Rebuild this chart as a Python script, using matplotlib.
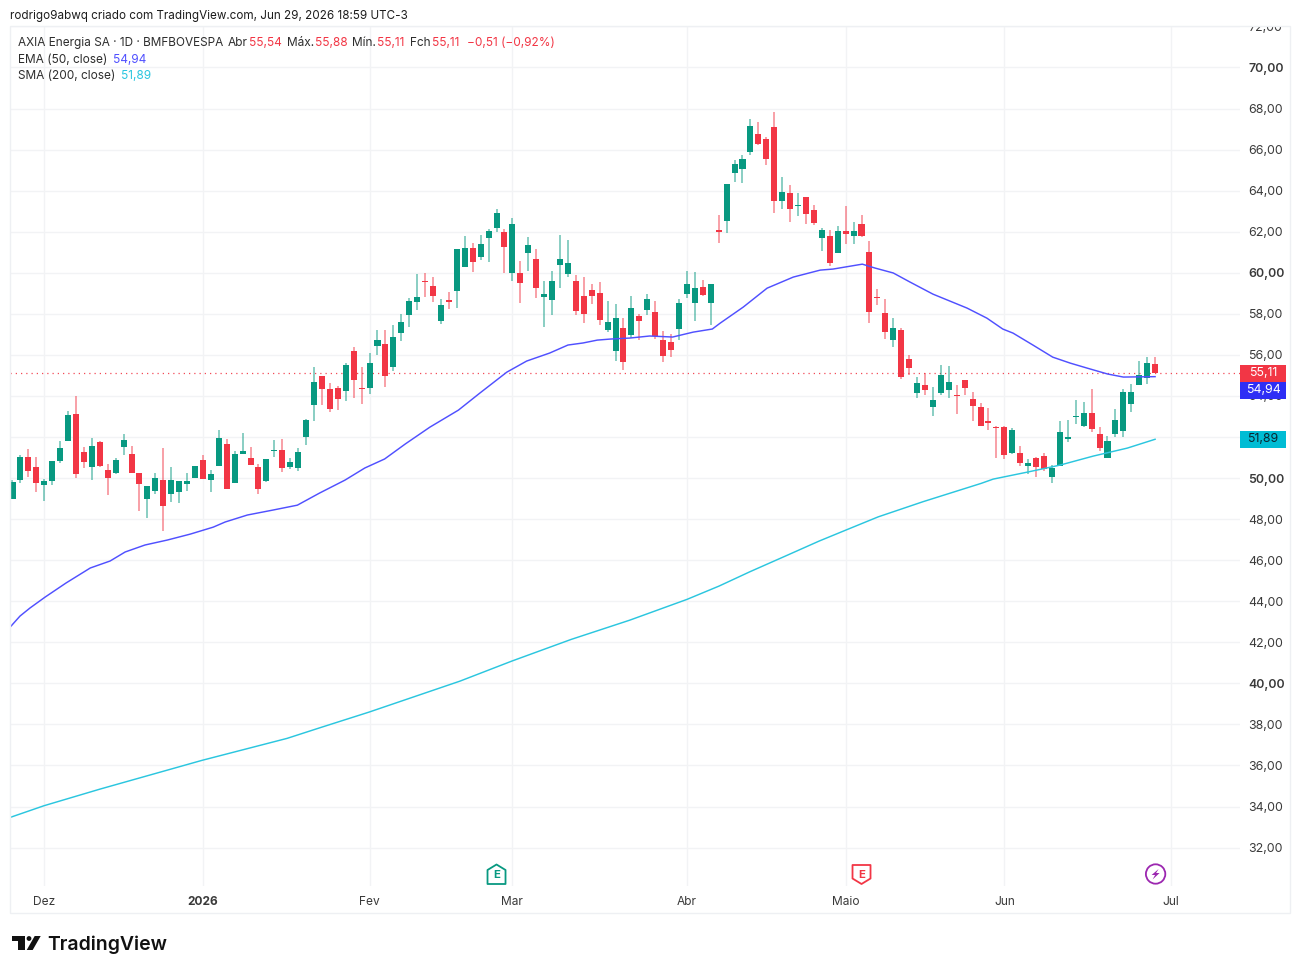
import matplotlib
matplotlib.use("Agg")
import matplotlib.pyplot as plt
from matplotlib.patches import Rectangle, Polygon, Circle
from matplotlib.transforms import Affine2D, Bbox, blended_transform_factory

# Daily OHLC, one row position per session
opens = [48.99, 49.90, 51.02, 50.55, 49.64, 49.87, 50.81, 51.79, 53.12, 51.27,
         50.54, 51.76, 50.41, 50.26, 51.50, 51.15, 50.23, 48.99, 49.35, 49.90,
         49.24, 49.33, 49.71, 50.02, 50.88, 49.89, 50.60, 51.67, 49.76, 51.19,
         50.99, 50.55, 49.87, 51.30, 51.37, 50.54, 50.50, 51.98, 53.57, 54.95,
         54.32, 54.37, 54.24, 56.21, 54.38, 54.37, 56.44, 56.55, 55.43, 57.09,
         57.95, 58.59, 59.61, 59.34, 57.67, 58.65, 59.12, 60.30, 61.19, 60.75,
         61.71, 62.19, 62.01, 59.99, 59.99, 60.98, 60.69, 58.81, 58.65, 60.39,
         59.95, 59.60, 58.86, 59.16, 59.01, 57.22, 56.18, 57.30, 56.98, 57.87,
         58.21, 58.11, 56.72, 56.63, 57.28, 58.98, 58.55, 59.32, 58.52, 62.10,
         62.52, 64.86, 65.06, 65.87, 66.78, 66.50, 67.12, 63.50, 63.87, 63.27,
         63.67, 63.04, 61.69, 61.80, 60.98, 62.03, 61.80, 62.39, 60.99, 58.80,
         58.05, 56.73, 57.21, 55.78, 54.13, 54.52, 53.48, 54.13, 54.31, 54.05,
         54.77, 53.87, 53.45, 52.77, 52.47, 52.47, 51.22, 51.22, 50.60, 50.98,
         51.07, 50.07, 50.59, 51.92, 52.96, 52.52, 53.16, 52.13, 50.99, 52.13,
         52.31, 53.61, 54.54, 54.85, 55.54]
highs = [49.92, 51.14, 51.41, 51.02, 49.97, 50.85, 51.80, 53.25, 54.02, 51.51,
         51.97, 51.80, 50.70, 50.99, 52.15, 51.56, 50.23, 49.63, 50.24, 51.48,
         50.55, 49.87, 50.23, 50.59, 51.14, 50.41, 52.34, 51.92, 51.33, 52.20,
         51.51, 50.68, 50.93, 51.84, 51.90, 50.98, 51.48, 52.86, 55.39, 54.95,
         54.63, 54.47, 55.62, 56.40, 55.39, 56.09, 57.19, 57.22, 57.46, 57.97,
         58.77, 59.92, 60.00, 59.81, 58.70, 59.04, 61.18, 61.81, 61.44, 61.83,
         62.15, 63.13, 62.15, 62.69, 60.59, 61.73, 61.14, 59.58, 60.07, 61.83,
         61.60, 59.87, 59.78, 59.47, 59.56, 58.62, 58.50, 57.80, 58.88, 57.97,
         58.98, 58.62, 57.15, 57.02, 58.72, 60.08, 60.05, 59.67, 59.46, 62.81,
         64.34, 65.48, 65.74, 67.48, 67.35, 66.62, 67.85, 64.68, 64.29, 63.87,
         63.69, 63.28, 62.20, 62.07, 62.26, 63.27, 62.49, 62.81, 61.54, 59.22,
         58.73, 57.79, 57.31, 56.00, 54.91, 55.13, 54.43, 55.52, 55.45, 54.52,
         54.77, 54.17, 53.68, 53.42, 52.52, 52.52, 52.44, 51.58, 50.94, 51.01,
         51.20, 50.63, 52.78, 52.83, 53.81, 53.69, 54.36, 52.51, 52.07, 53.34,
         54.36, 54.56, 55.71, 55.92, 55.88]
lows = [48.99, 49.76, 50.05, 49.30, 48.86, 49.66, 50.72, 51.79, 50.02, 50.50,
        49.90, 50.54, 49.19, 50.18, 51.11, 50.23, 48.41, 48.07, 49.24, 47.43,
        48.85, 48.81, 49.37, 50.02, 49.95, 49.30, 50.60, 49.48, 49.76, 51.19,
        50.63, 49.22, 49.80, 51.04, 50.31, 50.46, 50.34, 51.59, 52.78, 53.54,
        53.20, 53.30, 53.77, 53.88, 53.59, 54.08, 55.98, 54.43, 55.22, 56.70,
        57.38, 58.20, 58.83, 58.60, 57.51, 58.23, 58.26, 60.30, 60.05, 60.64,
        60.52, 62.01, 60.00, 59.58, 58.55, 60.10, 58.78, 57.36, 57.92, 59.25,
        59.78, 57.92, 57.56, 58.49, 57.46, 57.12, 55.69, 55.25, 56.83, 56.72,
        57.92, 56.78, 55.64, 55.89, 56.72, 58.76, 57.64, 58.85, 57.48, 61.43,
        61.92, 64.41, 64.36, 65.76, 66.23, 65.25, 62.91, 63.09, 62.47, 62.76,
        62.36, 62.34, 61.04, 60.33, 60.98, 61.38, 61.40, 61.76, 57.54, 58.42,
        56.78, 56.37, 54.82, 55.01, 53.92, 54.04, 53.04, 54.07, 53.89, 53.11,
        54.07, 52.80, 52.54, 52.33, 50.98, 50.93, 51.19, 50.59, 50.21, 50.05,
        50.34, 49.76, 50.59, 51.74, 52.65, 52.49, 52.23, 51.30, 50.99, 51.99,
        51.99, 53.22, 54.54, 54.57, 55.11]
closes = [49.80, 51.02, 50.33, 49.76, 49.87, 50.81, 51.48, 53.07, 50.21, 50.80,
          51.58, 50.57, 50.02, 50.88, 51.87, 50.24, 49.69, 49.63, 49.98, 48.63,
          49.93, 49.85, 49.87, 50.59, 49.97, 50.21, 51.93, 49.48, 51.17, 51.32,
          50.65, 49.45, 50.93, 51.37, 50.47, 50.78, 51.27, 52.81, 54.66, 54.35,
          53.36, 53.86, 55.49, 54.76, 54.34, 55.59, 56.73, 54.95, 56.86, 57.61,
          58.62, 58.83, 59.55, 58.88, 58.41, 58.60, 61.18, 61.19, 60.51, 61.39,
          62.02, 62.92, 61.26, 62.36, 59.48, 61.34, 59.27, 58.98, 59.58, 60.69,
          60.48, 58.16, 57.97, 58.88, 57.72, 57.61, 57.80, 55.63, 58.26, 57.63,
          58.72, 56.91, 55.97, 56.26, 58.55, 59.46, 59.27, 58.93, 59.46, 61.97,
          64.34, 65.32, 65.56, 67.14, 66.26, 65.54, 63.50, 63.92, 63.09, 63.32,
          62.86, 62.41, 62.07, 60.49, 62.03, 61.89, 62.03, 61.77, 58.11, 58.75,
          57.11, 57.32, 54.91, 55.34, 54.64, 54.28, 53.81, 55.00, 54.67, 54.00,
          54.39, 53.52, 52.54, 52.70, 52.42, 51.12, 52.36, 50.73, 50.75, 50.52,
          50.42, 50.50, 52.26, 52.00, 53.03, 53.16, 52.38, 51.48, 51.81, 52.83,
          54.20, 54.17, 55.03, 55.62, 55.11]

# Moving averages, read at these session positions
ema_pos = [-0.3, 0.95, 2.2, 4.1, 6.75, 9.8, 12.3, 14.2, 16.7, 19.5, 22.4, 25.3, 26.8, 29.6,
           32.8, 35.9, 38.7, 41.9, 44.4, 46.9, 49.5, 52.6, 56.2, 58.9, 62.3, 64.8, 67.7,
           70.0, 71.9, 73.7, 75.3, 77.8, 80.3, 83.2, 85.8, 88.2, 89.2, 92.1, 95.1, 98.4,
           101.8, 103.4, 107.1, 108.7, 111.0, 113.1, 116.0, 120.3, 122.8, 124.8, 126.1,
           128.6, 131.1, 133.3, 135.4, 138.0, 140.0, 144.0]
ema_val = [42.74, 43.28, 43.67, 44.20, 44.89, 45.62, 45.96, 46.40, 46.74, 46.98, 47.27, 47.61,
           47.86, 48.20, 48.44, 48.68, 49.27, 49.90, 50.49, 50.93, 51.66, 52.48, 53.31, 54.14,
           55.16, 55.70, 56.09, 56.48, 56.58, 56.72, 56.77, 56.82, 56.92, 56.87, 57.11, 57.26,
           57.55, 58.33, 59.25, 59.79, 60.13, 60.18, 60.42, 60.23, 59.99, 59.55, 58.96, 58.28,
           57.79, 57.26, 57.06, 56.48, 55.89, 55.60, 55.36, 55.07, 54.92, 54.94]
sma_pos = [-0.3, 3.97, 11.03, 23.88, 34.6, 38.76, 44.93, 56.4, 62.96, 70.4, 77.8, 85.0, 89.05,
           92.95, 97.4, 101.65, 105.05, 109.1, 114.76, 122.07, 123.6, 127.9, 132.0, 136.2,
           140.5, 144.0]
sma_val = [33.47, 34.04, 34.85, 36.25, 37.32, 37.84, 38.60, 40.11, 41.09, 42.14, 43.08, 44.09,
           44.74, 45.44, 46.20, 46.93, 47.47, 48.11, 48.85, 49.74, 49.95, 50.29, 50.63, 51.07,
           51.46, 51.89]

month_pos = [4, 24, 45, 63, 85, 105, 125, 146]
month_labels = ["Dez", "2026", "Fev", "Mar", "Abr", "Maio", "Jun", "Jul"]
price_ticks = list(range(32, 74, 2))
earnings_pos = [61, 107]
dividend_pos = [144]

last_open, last_high, last_low, last_close = opens[-1], highs[-1], lows[-1], closes[-1]
ema_last, sma_last = ema_val[-1], sma_val[-1]

UP = "#089981"
DOWN = "#F23645"
EMA_COLOR = "#5050FF"
SMA_COLOR = "#2BC6DF"
GRID = "#F2F3F5"
FONT = ["Inter", "DejaVu Sans"]
plt.rcParams["font.family"] = FONT

W, H = 1300, 973
fig = plt.figure(figsize=(W / 100, H / 100), dpi=100, facecolor="white")
# Screen-pixel transform with the origin at the top left
px = Affine2D().scale(1, -1).translate(0, H)


def fr(x0, y0, x1, y1):
    return [x0 / W, 1 - y1 / H, (x1 - x0) / W, (y1 - y0) / H]


ax = fig.add_axes(fr(10, 26, 1240, 886))
ax.set_xlim(-0.315, 154.7)
ax.set_ylim(30.13, 72.02)
for s in ax.spines.values():
    s.set_visible(False)
ax.set_axisbelow(True)
ax.grid(True, color=GRID, lw=1)

ax.set_xticks(month_pos)
ax.set_xticklabels(month_labels, fontsize=8.6, color="#3a3a3a")
ax.tick_params(axis="x", length=0, pad=7)
for lab in ax.get_xticklabels():
    if lab.get_text() == "2026":
        lab.set_fontweight("bold")

ax.yaxis.tick_right()
ax.set_yticks(price_ticks)
ax.set_yticklabels([f"{p:.2f}".replace(".", ",") for p in price_ticks], fontsize=8.9, color="#3a3a3a")
ax.tick_params(axis="y", length=0, pad=5.8)
clip = Bbox.from_extents(10, H - 913, 1290, H - 26)
for lab, p in zip(ax.get_yticklabels(), price_ticks):
    lab.set_clip_on(True)
    lab.set_clip_box(clip)
    if p % 10 == 0:
        lab.set_fontweight("semibold")

# Candles
n = len(closes)
pos = list(range(n))
colors = [UP if c >= o else DOWN for o, c in zip(opens, closes)]
ax.vlines(pos, lows, highs, colors=colors, lw=1.1, alpha=0.6, zorder=3)
bottoms = [min(o, c) for o, c in zip(opens, closes)]
heights = [max(abs(c - o), 0.05) for o, c in zip(opens, closes)]
ax.bar(pos, heights, bottom=bottoms, width=0.76, color=colors, lw=0, zorder=4)

ax.plot(ema_pos, ema_val, color=EMA_COLOR, lw=1.05, zorder=5)
ax.plot(sma_pos, sma_val, color=SMA_COLOR, lw=1.05, zorder=5)
ax.axhline(last_close, color=DOWN, lw=0.9, ls=(0, (1, 3.2)), alpha=0.9, zorder=2)

# Last-value tags on the price scale
tag_tf = blended_transform_factory(ax.transAxes, ax.transData)
tag_w = 46 / 1230
unit = 20.53  # pixels per price unit
for val, shift, face, txt in [
    (last_close, 0, DOWN, "white"),
    (ema_last, 0.66, "#2E2EF5", "white"),
    (sma_last, 0, "#00BCD4", "#0b2530"),
]:
    yc = val - shift
    ax.add_patch(Rectangle((1.0, yc - 8.5 / unit), tag_w, 17 / unit, transform=tag_tf,
                           facecolor=face, edgecolor="none", clip_on=False, zorder=10))
    ax.text(1.0 + tag_w / 2, yc - 0.01, f"{val:.2f}".replace(".", ","), transform=tag_tf, color=txt,
            fontsize=8.9, ha="center", va="center", clip_on=False, zorder=11)

# Outer frame of the chart panel
fig.add_artist(Rectangle((10, 26), 1280, 887, transform=px, fill=False, edgecolor="#EEF0F3", lw=1))


def t(x, y, s, color="#2e2e2e", size=8.55, weight="normal", ha="left"):
    fig.text(x, y + 1.3, s, transform=px, color=color, fontsize=size, fontweight=weight, ha=ha, va="center")


t(10, 15, "rodrigo9abwq criado com TradingView.com, Jun 29, 2026 18:59 UTC-3", color="#1c1c1c", size=8.42)
t(18, 42, "AXIA Energia SA · 1D · BMFBOVESPA", size=8.5)
fmt = lambda v: f"{v:.2f}".replace(".", ",")
t(228, 42, "Abr")
t(249, 42, fmt(last_open), DOWN)
t(287, 42, "Máx.")
t(315, 42, fmt(last_high), DOWN)
t(352, 42, "Mín.")
t(377, 42, fmt(last_low), DOWN)
t(410, 42, "Fch")
t(432, 42, fmt(last_close), DOWN)
t(467, 42, "−0,51 (−0,92%)", DOWN)
t(18, 59, "EMA (50, close)")
t(113, 59, fmt(ema_last), EMA_COLOR)
t(18, 75, "SMA (200, close)")
t(121, 75, fmt(sma_last), SMA_COLOR)

# Event markers below the candles
bar_x = ax.transData
for p, up in zip(earnings_pos, [True, False]):
    xc = bar_x.transform((p, 40))[0]
    col = UP if up else DOWN
    if up:
        shape = [(xc - 9, 884), (xc - 9, 870), (xc, 864.5), (xc + 9, 870), (xc + 9, 884)]
    else:
        shape = [(xc - 9, 865), (xc + 9, 865), (xc + 9, 878.5), (xc, 884), (xc - 9, 878.5)]
    fig.add_artist(Polygon(shape, closed=True, transform=px, facecolor="white", edgecolor=col, lw=1.3, joinstyle="round"))
    t(xc, 873.5, "E", col, size=8.2, weight="bold", ha="center")
for p in dividend_pos:
    xc = bar_x.transform((p, 40))[0]
    fig.add_artist(Circle((xc + 0.5, 874), 9.7, transform=px, facecolor="white", edgecolor="#9C27B0", lw=1.3))
    bolt = [(xc + 3.5, 869), (xc - 3.5, 875), (xc, 875), (xc - 2.5, 879.5), (xc + 4.5, 873), (xc + 1, 873)]
    fig.add_artist(Polygon(bolt, closed=True, transform=px, facecolor="#9C27B0", edgecolor="none"))

# Wordmark in the footer
logo_x = 11.7
for shape in (
    [(0, 936), (13.3, 936), (13.3, 950), (6.7, 950), (6.7, 941), (0, 941)],
    [(15, 950), (23, 936), (29, 936), (21, 950)],
):
    fig.add_artist(Polygon([(logo_x + a, b) for a, b in shape], closed=True, transform=px, facecolor="#111111", edgecolor="none"))
fig.add_artist(Circle((29, 938.5), 2.4, transform=px, facecolor="#111111", edgecolor="none"))
t(47, 943, "TradingView", "#111111", size=14, weight="semibold")

fig.savefig("out.png", dpi=100, facecolor="white")
